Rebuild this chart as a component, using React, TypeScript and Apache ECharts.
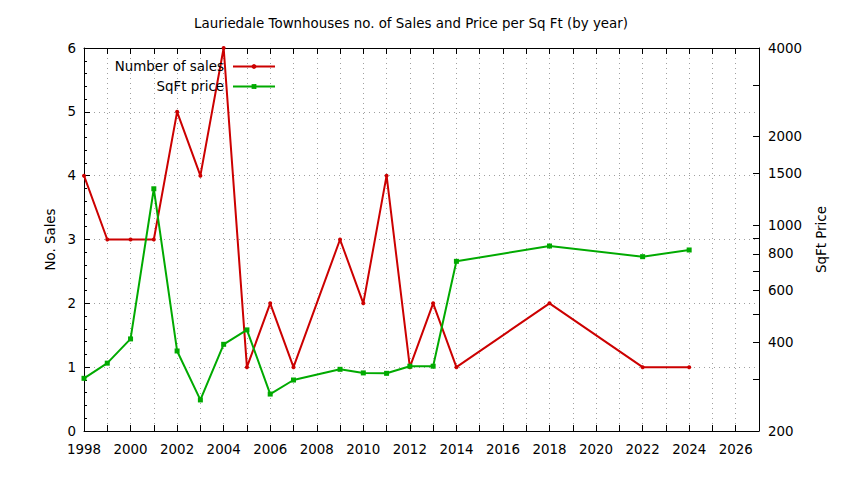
import React, { useEffect, useRef } from "react";
import * as echarts from "echarts";

const salesYears = [1998, 1999, 2000, 2001, 2002, 2003, 2004, 2005, 2006, 2007, 2009, 2010, 2011, 2012, 2013, 2014, 2018, 2022, 2024];
const salesCounts = [4, 3, 3, 3, 5, 4, 6, 1, 2, 1, 3, 2, 4, 1, 2, 1, 2, 1, 1];

const priceYears = [1998, 1999, 2000, 2001, 2002, 2003, 2004, 2005, 2006, 2007, 2009, 2010, 2011, 2012, 2013, 2014, 2018, 2022, 2024];
const priceValues = [302, 340, 411, 1330, 374, 255, 394, 441, 267, 298, 324, 315, 314, 332, 332, 754, 850, 782, 824];

const priceLabelTicks = [200, 400, 600, 800, 1000, 1500, 2000, 4000];
const priceMinorTicks = [300, 500, 700, 900, 3000];

const FONT = "DejaVu Sans";
const FS = 13.4;

export default function App() {
  const ref = useRef<HTMLDivElement>(null);
  useEffect(() => {
    if (!ref.current) return;
    const chart = echarts.init(ref.current, undefined, { renderer: "svg" });
    const gridLine = { show: true, lineStyle: { color: "#a0a0a0", type: [1, 4] as any, width: 1 } };
    const blackLine = { show: true, lineStyle: { color: "#000", width: 1 } };
    const allPriceTicks = [...priceLabelTicks, ...priceMinorTicks].sort((a, b) => a - b);
    const legendBase = {
      right: 563,
      align: "right",
      itemWidth: 42,
      itemHeight: 6,
      textStyle: { fontFamily: FONT, fontSize: FS, color: "#000", padding: [0, 4, 0, 0] },
    };
    chart.setOption({
      animation: false,
      backgroundColor: "#fff",
      textStyle: { fontFamily: FONT },
      title: {
        text: "Lauriedale Townhouses no. of Sales and Price per Sq Ft (by year)",
        left: 189,
        top: 12,
        textStyle: { fontFamily: FONT, fontSize: FS, fontWeight: "normal", color: "#000" },
      },
      legend: [
        { ...legendBase, data: ["Number of sales"], top: 55 },
        { ...legendBase, data: ["SqFt price"], top: 75 },
      ],
      grid: { left: 84, right: 85, top: 48, bottom: 49, containLabel: false, outerBoundsMode: "none" } as any,
      xAxis: [
        {
          type: "value",
          position: "bottom",
          min: 1998,
          max: 2027,
          interval: 1,
          axisLine: blackLine,
          axisTick: { show: true, inside: true, length: 6, lineStyle: { color: "#000" } },
          axisLabel: {
            margin: 12,
            fontFamily: FONT,
            fontSize: FS,
            color: "#000",
            formatter: (v: number) => (v % 2 === 0 ? String(v) : ""),
          },
          splitLine: gridLine,
        },
        {
          type: "value",
          position: "top",
          min: 1998,
          max: 2027,
          interval: 1,
          axisLine: blackLine,
          axisTick: { show: true, inside: true, length: 6, lineStyle: { color: "#000" } },
          axisLabel: { show: false },
          splitLine: { show: false },
        },
      ],
      yAxis: [
        {
          type: "value",
          position: "left",
          min: 0,
          max: 6,
          interval: 1,
          name: "No. Sales",
          nameLocation: "middle",
          nameGap: 26,
          nameTextStyle: { fontFamily: FONT, fontSize: FS, color: "#000" },
          axisLine: blackLine,
          axisTick: { show: true, inside: true, length: 6, lineStyle: { color: "#000" } },
          minorTick: { show: true, splitNumber: 5, length: 3, lineStyle: { color: "#000" } },
          axisLabel: { margin: 8, fontFamily: FONT, fontSize: FS, color: "#000" },
          splitLine: gridLine,
        },
        {
          type: "log",
          logBase: 10,
          position: "right",
          min: 200,
          max: 4000,
          axisLine: blackLine,
          axisTick: { show: false },
          minorTick: { show: false },
          axisLabel: { show: false },
          splitLine: { show: false },
        },
        {
          type: "value",
          position: "right",
          min: Math.log10(200),
          max: Math.log10(4000),
          name: "SqFt Price",
          nameLocation: "middle",
          nameGap: 56,
          nameTextStyle: { fontFamily: FONT, fontSize: FS, color: "#000" },
          axisLine: { show: false },
          axisTick: {
            show: true,
            inside: true,
            length: 6,
            lineStyle: { color: "#000" },
            customValues: allPriceTicks.map((v) => Math.log10(v)),
          },
          axisLabel: {
            margin: 9,
            fontFamily: FONT,
            fontSize: FS,
            color: "#000",
            customValues: priceLabelTicks.map((v) => Math.log10(v)),
            formatter: (v: number) => String(Math.round(Math.pow(10, v))),
          },
          splitLine: { show: false },
        },
      ],
      series: [
        {
          name: "Number of sales",
          type: "line",
          xAxisIndex: 0,
          yAxisIndex: 0,
          data: salesYears.map((y, i) => [y, salesCounts[i]]),
          symbol: "circle",
          symbolSize: 4,
          lineStyle: { color: "#cc0000", width: 2 },
          itemStyle: { color: "#cc0000" },
          z: 2,
        },
        {
          name: "SqFt price",
          type: "line",
          xAxisIndex: 0,
          yAxisIndex: 1,
          data: priceYears.map((y, i) => [y, priceValues[i]]),
          symbol: "rect",
          symbolSize: 5,
          lineStyle: { color: "#00aa00", width: 2 },
          itemStyle: { color: "#00aa00" },
          z: 3,
        },
      ],
    });
    return () => chart.dispose();
  }, []);
  return <div ref={ref} style={{ position: "fixed", left: 0, top: 0, width: 844, height: 480 }} />;
}
